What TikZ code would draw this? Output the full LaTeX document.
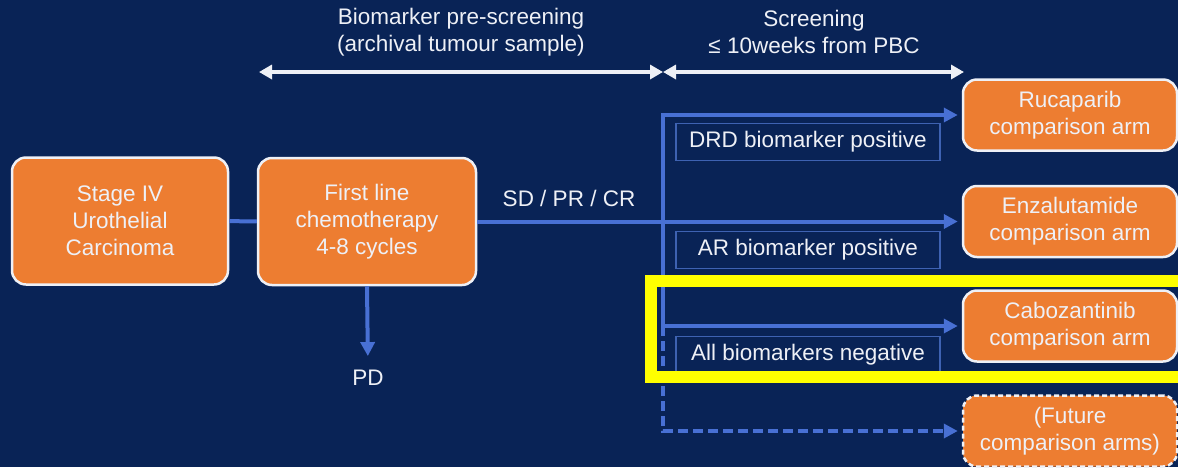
\documentclass[tikz,border=0pt]{standalone}
\usepackage{fontspec}
\setmainfont{Liberation Sans}
\usetikzlibrary{arrows.meta}
\definecolor{navy}{RGB}{9,35,86}
\definecolor{boxorange}{RGB}{237,125,49}
\definecolor{flowblue}{RGB}{72,112,212}
\definecolor{labelline}{RGB}{62,98,178}
\definecolor{softwhite}{RGB}{238,240,246}
\definecolor{marker}{RGB}{255,255,0}
\tikzset{
  txt/.style={font=\fontsize{22.5}{27}\selectfont, text=softwhite, align=center, inner sep=0pt},
  stagebox/.style={txt, draw=softwhite, line width=2.5pt, fill=boxorange, rounded corners=14pt},
  armbox/.style={stagebox, minimum width=214pt, minimum height=71pt},
  labelbox/.style={txt, draw=labelline, line width=1.5pt, minimum width=264pt, minimum height=37pt},
  flow/.style={draw=flowblue, line width=4pt},
  flowarrow/.style={flow, -{Triangle[length=14pt,width=14pt]}, shorten >=4pt},
  span/.style={draw=softwhite, line width=4pt, {Triangle[length=13pt,width=14pt]}-{Triangle[length=13pt,width=14pt]}}
}
\begin{document}
\begin{tikzpicture}[x=1pt, y=-1pt]
  \fill[navy] (0,0) rectangle (1178,467);
  \useasboundingbox (0,0) rectangle (1178,467);

  % phase headings and spans
  \node[txt] (pre) at (461,32) {Biomarker pre-screening\\(archival tumour sample)};
  \node[txt] (scr) at (814,32) {Screening\\≤ 10weeks from PBC};
  \coordinate (spanA) at (259,72);
  \coordinate (spanB) at (663,72);
  \coordinate (spanC) at (964,72);
  \draw[span] (spanA) -- (spanB);
  \draw[span] (spanB) -- (spanC);

  % main boxes
  \node[stagebox, minimum width=216pt, minimum height=127pt] (s4) at (120,221) {Stage IV\\Urothelial\\Carcinoma};
  \node[stagebox, minimum width=218pt, minimum height=127pt] (fl) at (367,221.5) {First line\\chemotherapy\\4-8 cycles};

  % comparison arms
  \node[armbox] (rb) at (1070,115) {Rucaparib\\comparison arm};
  \node[armbox] (ea) at (1070,221.5) {Enzalutamide\\comparison arm};
  \node[armbox] (cb) at (1070,326) {Cabozantinib\\comparison arm};
  \node[armbox, dashed, dash pattern=on 5pt off 3pt] (fa) at (1070,431) {(Future\\comparison arms)};

  % biomarker labels
  \node[labelbox] (drd) at (808,142) {DRD biomarker positive};
  \node[labelbox] (ar) at (808,250) {AR biomarker positive};
  \node[labelbox] (neg) at (808,355) {All biomarkers negative};

  % response labels
  \node[txt] (resp) at (569,198) {SD / PR / CR};
  \node[txt] (pd) at (368,378) {PD};

  % connectors
  \coordinate (br) at (663,221.5);
  \draw[flow] (s4) -- (fl);
  \draw[flowarrow] (fl) -- (ea.west);
  \draw[flowarrow] (br |- cb.west) -- (br |- rb.west) -- (rb.west);
  \draw[flowarrow] (br |- cb.west) -- (cb.west);
  \draw[flowarrow, dashed, dash pattern=on 10pt off 5pt] (br |- cb.west) -- (br |- fa.west) -- (fa.west);
  \draw[flowarrow, shorten >=14pt] (fl.south) -- (pd.north);

  % highlight frame
  \draw[marker, line width=12pt] (1200,281) -- (651,281) -- (651,377) -- (1200,377);
\end{tikzpicture}
\end{document}
